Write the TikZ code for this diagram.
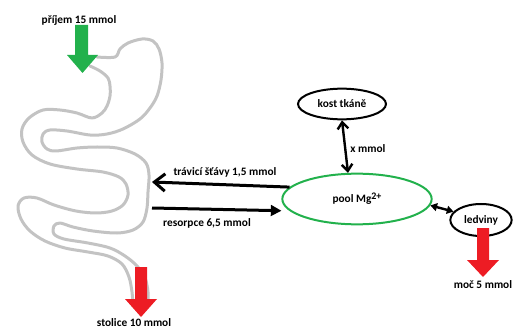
\documentclass[tikz,border=0pt]{standalone}
\usepackage{fontspec}
\setmainfont{Carlito}
\usetikzlibrary{arrows.meta,shapes.geometric}
\definecolor{paintgreen}{HTML}{22B14C}
\definecolor{paintred}{HTML}{ED1C24}
\definecolor{gutgray}{HTML}{C3C3C3}
\begin{document}
\begin{tikzpicture}[x=0.75pt,y=-0.75pt,
  lbl/.style={font=\fontsize{8.5}{10}\selectfont\bfseries, inner sep=0pt},
  organ/.style={ellipse, draw, line width=1.5pt, inner sep=0pt,
    font=\fontsize{8.5}{10}\selectfont\bfseries},
  gutwall/.style={draw=gutgray, line width=2.25pt, line cap=round, line join=round},
  flow/.style={line width=2.25pt},
  barbhead/.style={-{Straight Barb[length=8pt,width=13pt]}},
  trihead/.style={-{Triangle[length=8pt,width=8pt]}},
  twoway/.style={{Straight Barb[length=5pt,width=8pt]}-{Straight Barb[length=5pt,width=8pt]}, line width=1.8pt},
  shortway/.style={{Triangle[length=5pt,width=6pt]}-{Triangle[length=5pt,width=6pt]}, line width=1.8pt},
]
\useasboundingbox (0,0) rectangle (522,328);

% intestine: two walls of the tube
\draw[gutwall] plot[smooth, tension=0.55] coordinates {
  (90,66) (100,71) (108,78) (110,86) (110,96) (107,106) (102,113) (92,118)
  (77,113) (60,110) (43,110) (29,118) (22,129) (23,142) (32,155) (50,164)
  (77,169) (103,172) (119,177) (126,184) (128,195) (123,205) (112,211)
  (96,213) (76,211) (54,205) (37,198) (24,198) (18,206) (21,219) (30,231)
  (45,241) (65,248) (88,252) (108,256) (122,264) (129,277) (132,292) (133,306)};
\draw[gutwall] plot[smooth, tension=0.55] coordinates {
  (97,57) (115,57) (120,49) (128,43) (142,39) (153,41) (159,49) (162,63)
  (161,80) (157,96) (150,108) (140,119) (123,129) (107,134) (90,135)
  (67,131) (50,130) (43,134) (42,142) (47,149) (56,151) (77,148) (97,147)
  (117,148) (135,154) (146,163) (149,175) (148,192) (147,208) (143,222)
  (133,230) (117,233) (93,231) (73,227) (60,223) (54,226) (54,234) (64,239)
  (88,243) (110,248) (125,256) (137,266) (145,278) (148,292) (148,306)};

% intake and faeces block arrows
\fill[paintgreen] (75,25) -- (88,25) -- (88,55) -- (98,55) -- (82.5,73)
  -- (67,55) -- (75,55) -- cycle;
\fill[paintred] (135,267) -- (147,267) -- (147,299) -- (157,299) -- (141,317)
  -- (125,299) -- (135,299) -- cycle;
\node[lbl] (intake) at (79,20) {příjem 15 mmol};
\node[lbl] (stool) at (134,323) {stolice 10 mmol};

% compartments
\node[organ, draw=paintgreen, minimum width=112pt, minimum height=38pt] (pool)
  at (357,199) {pool Mg\raisebox{.55ex}{\fontsize{7.5}{8}\selectfont 2+}};
\node[organ, minimum width=66pt, minimum height=23pt] (bone) at (342,104) {kost tkáně};
\node[organ, minimum width=46pt, minimum height=24pt] (kidney) at (481,220) {ledviny};

% urine block arrow
\fill[paintred] (477,228) -- (489,228) -- (489,260) -- (499,260) -- (483,277)
  -- (467,260) -- (477,260) -- cycle;
\node[lbl] (urine) at (483,285) {moč 5 mmol};

% exchange between gut and pool
\coordinate (gutout) at (152,182);
\coordinate (gutin) at (152,208);
\draw[flow, barbhead] (pool.170) -- (gutout);
\draw[flow, trihead, shorten >=6pt] (gutin) -- (pool.190);
\node[lbl] (juice) at (225,172) {trávicí šťávy 1,5 mmol};
\node[lbl] (resorb) at (207,223) {resorpce 6,5 mmol};

% exchange with bone and kidney
\draw[twoway] (bone.south) -- (pool.109);
\node[lbl] (xm) at (368,149) {x mmol};
\draw[shortway] (pool.-5) -- (kidney.163);
\end{tikzpicture}
\end{document}
